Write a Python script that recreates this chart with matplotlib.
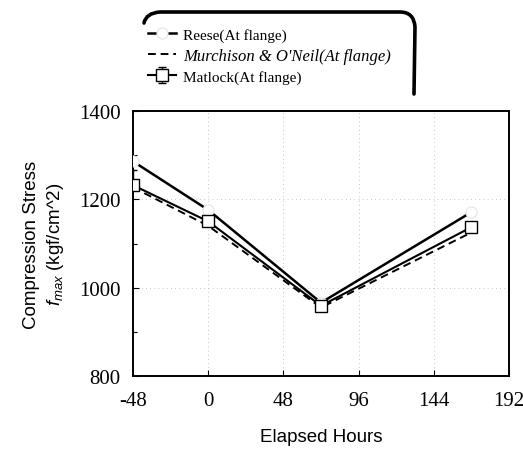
import matplotlib
matplotlib.use("Agg")
import matplotlib.pyplot as plt
from matplotlib.path import Path
from matplotlib.patches import PathPatch
from matplotlib.ticker import MultipleLocator

plt.rcParams['mathtext.fontset'] = 'custom'
plt.rcParams['mathtext.it'] = 'Liberation Sans:italic'
plt.rcParams['mathtext.rm'] = 'Liberation Sans'
plt.rcParams['axes.unicode_minus'] = False

# Elapsed time of each measurement (hours)
hours = [-48, 0, 72, 168]

# Maximum compression stress at the flange (kgf/cm^2)
reese = [1286, 1176, 966, 1171]
murchison = [1227, 1140, 955, 1125]
matlock = [1232, 1150, 959, 1137]
matlock_err = [35, 0, 0, 0]

series_labels = ["Reese(At flange)", "Murchison & O'Neil(At flange)", "Matlock(At flange)"]
xticks = [-48, 0, 48, 96, 144, 192]
yticks = [800, 1000, 1200, 1400]

W, H = 523, 452
fig = plt.figure(figsize=(W / 100, H / 100), dpi=100)
ax = fig.add_axes([133 / W, 1 - 377 / H, (509 - 133) / W, (377 - 112) / H])

serif = 'Liberation Serif'
sans = 'Liberation Sans'

ax.plot(hours, reese, color='black', lw=1.8, marker='o', ms=8,
        mfc='white', mec='#e4e4e4', mew=0.8, label=series_labels[0], zorder=3)
ax.plot(hours, murchison, color='black', lw=1.4, ls=(0, (4, 2.5)),
        label=series_labels[1], zorder=3)
ax.errorbar(hours, matlock, yerr=[[0] * 4, matlock_err], color='black', lw=1.5,
            marker='s', ms=9, mfc='white', mec='black', mew=1.0,
            ecolor='black', elinewidth=1.0, capsize=3, capthick=1.0,
            label=series_labels[2], zorder=4)

ax.set_xlim(-48, 192)
ax.set_ylim(800, 1400)
ax.set_xticks(xticks)
ax.set_yticks(yticks)
ax.yaxis.set_minor_locator(MultipleLocator(100))
ax.tick_params(which='both', direction='in', length=4, width=0.8)
ax.tick_params(axis='y', which='minor', length=3)
ax.tick_params(axis='x', pad=11)
ax.tick_params(axis='y', pad=9)
for lab in ax.get_xticklabels() + ax.get_yticklabels():
    lab.set_fontfamily(serif)
    lab.set_fontsize(15)
    lab.set_clip_on(False)

ax.grid(True, color='0.7', lw=0.6, ls=(0, (1, 4)))
for s in ax.spines.values():
    s.set_linewidth(1.4)

ax.set_xlabel("Elapsed Hours", fontfamily=sans, fontsize=13.5, labelpad=13)
ax.set_ylabel("Compression Stress\n$f_{max}$ (kgf/cm^2)", fontfamily=sans,
              fontsize=13.5, labelpad=9, linespacing=1.35)

# Legend above the plot
leg = fig.legend(loc='upper left', bbox_to_anchor=(148 / W, 1 - 29 / H),
                 frameon=False, prop={'family': serif, 'size': 11},
                 borderaxespad=0, borderpad=0, labelspacing=0.38,
                 handlelength=1.8, handletextpad=0.5)
leg.get_texts()[1].set_style('italic')
leg.get_texts()[1].set_fontsize(12)

# Rounded frame around the legend (top and right edges)
def px(x, y):
    return (x / W, 1 - y / H)

verts = [px(144, 24), px(146, 14), px(160, 13), px(400, 13),
         px(414, 13), px(415, 28), px(414, 95)]
codes = [Path.MOVETO, Path.CURVE3, Path.CURVE3, Path.LINETO,
         Path.CURVE3, Path.CURVE3, Path.LINETO]
fig.patches.append(PathPatch(Path(verts, codes), transform=fig.transFigure,
                             fill=False, lw=2.6, color='black',
                             capstyle='round', joinstyle='round'))

fig.savefig("out.png", dpi=100)
